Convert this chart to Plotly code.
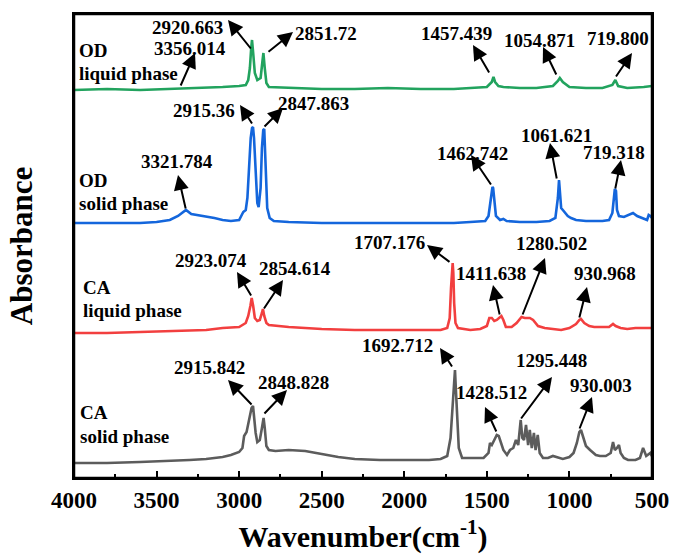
import plotly.graph_objects as go

# ---------------- data ----------------
od_liquid_wn = [4000, 3800, 3600, 3400, 3300, 3200, 3100, 3000, 2960, 2945, 2935, 2927, 2922, 2915,
                2905, 2890, 2870, 2860, 2853, 2845, 2835, 2820, 2700, 2500, 2300, 2100, 1900, 1700,
                1600, 1500, 1470, 1460, 1450, 1430, 1400, 1300, 1200, 1100, 1070, 1058, 1040, 1000,
                900, 800, 740, 722, 705, 650, 550, 500]
od_liquid_ab = [388, 389, 388, 389, 390, 390, 391, 392, 393, 398, 410, 430, 438, 425,
                405, 398, 400, 415, 425, 410, 395, 391, 390, 389, 389, 390, 389, 389,
                390, 391, 396, 401, 396, 392, 391, 390, 390, 392, 397, 400, 396, 391,
                390, 390, 393, 398, 392, 390, 391, 392]

od_solid_wn = [4000, 3800, 3600, 3500, 3420, 3370, 3322, 3290, 3250, 3200, 3150, 3100, 3050, 3000,
               2975, 2960, 2950, 2940, 2930, 2922, 2916, 2910, 2900, 2890, 2882, 2870, 2862, 2854,
               2848, 2840, 2830, 2815, 2790, 2700, 2500, 2300, 2100, 1900, 1700, 1600, 1510, 1490,
               1475, 1466, 1462, 1455, 1445, 1420, 1400, 1380, 1300, 1200, 1120, 1085, 1070, 1063,
               1058, 1050, 1040, 1025, 1010, 990, 960, 900, 800, 760, 740, 725, 718, 712, 700, 670,
               640, 615, 590, 560, 530, 520, 510, 500]
od_solid_ab = [255, 255, 255, 256, 258, 262, 268, 264, 263, 262, 260, 258, 257, 258,
               266, 268, 280, 310, 340, 350, 351, 340, 300, 275, 271, 290, 330, 348,
               349, 320, 270, 260, 257, 256, 255, 255, 255, 255, 255, 256, 257, 262,
               280, 291, 290, 278, 262, 258, 259, 257, 256, 256, 257, 260, 280, 298,
               285, 270, 268, 265, 262, 260, 258, 257, 257, 258, 265, 289, 287, 268, 262, 261,
               263, 265, 262, 260, 258, 263, 262, 260]

ca_liquid_wn = [4000, 3800, 3600, 3400, 3200, 3100, 3000, 2960, 2945, 2932, 2924, 2915, 2905, 2890,
                2875, 2862, 2856, 2848, 2835, 2820, 2700, 2500, 2300, 2100, 1900, 1780, 1740, 1725,
                1717, 1711, 1707, 1703, 1698, 1690, 1675, 1600, 1540, 1500, 1485, 1470, 1455, 1440,
                1420, 1412, 1400, 1385, 1350, 1320, 1290, 1270, 1240, 1220, 1190, 1150, 1100, 1050,
                1000, 960, 940, 930, 910, 880, 850, 800, 760, 736, 720, 690, 650, 600, 500]
ca_liquid_ab = [145, 145, 146, 147, 148, 150, 151, 155, 162, 172, 180, 172, 160, 157,
                158, 165, 169, 162, 155, 153, 151, 149, 148, 148, 148, 148, 150, 160,
                190, 210, 215, 205, 175, 155, 150, 148, 149, 152, 160, 160, 157, 158,
                161, 162, 158, 151, 151, 155, 161, 160, 160, 158, 152, 150, 149, 148,
                150, 154, 158, 159, 155, 152, 151, 151, 151, 154, 152, 150, 149, 150, 150]

ca_solid_wn = [4000, 3800, 3600, 3400, 3300, 3200, 3100, 3050, 3000, 2980, 2970, 2955, 2945, 2935,
               2925, 2916, 2910, 2900, 2890, 2875, 2862, 2852, 2845, 2835, 2820, 2780, 2700, 2600,
               2500, 2400, 2300, 2147, 2000, 1850, 1780, 1740, 1720, 1710, 1700, 1693, 1688, 1680,
               1670, 1650, 1600, 1520, 1490, 1481, 1470, 1455, 1440, 1428, 1415, 1400, 1378, 1360,
               1340, 1324, 1310, 1295, 1285, 1275, 1263, 1250, 1240, 1228, 1215, 1205, 1192, 1180,
               1160, 1130, 1100, 1080, 1060, 1040, 1000, 975, 955, 940, 930, 915, 900, 875, 840,
               815, 780, 750, 736, 725, 712, 700, 690, 670, 645, 600, 573, 554, 535, 510, 500]
ca_solid_ab = [15, 15, 16, 17, 18, 19, 21, 23, 26, 30, 42, 46, 55, 65,
               70, 72, 60, 45, 36, 38, 50, 60, 50, 32, 28, 27, 28, 27,
               24, 21, 19, 18, 18, 18, 19, 22, 40, 70, 100, 108, 90, 55,
               30, 20, 20, 20, 25, 35, 33, 38, 43, 42, 35, 28, 23, 28,
               30, 38, 33, 58, 40, 38, 53, 33, 48, 30, 45, 28, 43, 25,
               20, 20, 22, 21, 20, 19, 21, 25, 35, 46, 48, 40, 32, 28, 23,
               22, 22, 25, 36, 28, 30, 33, 25, 20, 18, 18, 20, 30, 22, 25, 22]

x_ticks = [4000, 3500, 3000, 2500, 2000, 1500, 1000, 500]

sample_labels = [["OD", "liquid phase"], ["OD", "solid phase"],
                 ["CA", "liquid phase"], ["CA", "solid phase"]]
peak_labels = ["2920.663", "3356.014", "2851.72", "1457.439", "1054.871", "719.800",
               "2915.36", "2847.863", "3321.784", "1462.742", "1061.621", "719.318",
               "2923.074", "2854.614", "1707.176", "1411.638", "1280.502", "930.968",
               "2915.842", "2848.828", "1692.712", "1428.512", "1295.448", "930.003"]

# ---------------- layout helpers ----------------
W, H = 673, 558
L, R, T, B = 74, 652, 14, 478
X0, X1 = 4000, 500
YTOP = B - T


def wx(px):
    return X0 - (px - L) * float(X0 - X1) / (R - L)


def vy(py):
    return B - py


FONT = "Liberation Serif, Times New Roman, serif"
colors = ["#22a35e", "#1466dc", "#f23f3f", "#5c5c5c"]

fig = go.Figure()
for wn, ab, c in zip([od_liquid_wn, od_solid_wn, ca_liquid_wn, ca_solid_wn],
                     [od_liquid_ab, od_solid_ab, ca_liquid_ab, ca_solid_ab], colors):
    fig.add_trace(go.Scatter(x=wn, y=ab, mode="lines", line=dict(color=c, width=2.6),
                             showlegend=False, hoverinfo="skip"))

ann = []
side_pos = [(77, 50, 73), (77, 180, 203), (81, 287, 310), (78, 412, 436)]
for (px, py1, py2), (l1, l2) in zip(side_pos, sample_labels):
    for py, t in ((py1, l1), (py2, l2)):
        ann.append(dict(x=wx(px), y=vy(py), xref="x", yref="y", text=t,
                        showarrow=False, xanchor="left", yanchor="middle",
                        font=dict(family=FONT, size=19, color="black", weight="bold")))

# peak labels: text centre, arrow head, arrow tail (pixels)
peak_geom = [
    ((187, 27), (228, 20), (252, 50)),
    ((190, 48), (195, 53), (180, 87)),
    ((326, 33), (293, 32), (267, 53)),
    ((456, 33), (473, 45), (490, 74)),
    ((539, 40), (543, 47), (557, 76)),
    ((618, 38), (632, 53), (615, 78)),
    ((204, 110), (240, 105), (253, 125)),
    ((313, 103), (283, 108), (263, 128)),
    ((177, 161), (178, 175), (186, 210)),
    ((472, 153), (471, 155), (492, 186)),
    ((556, 135), (550, 143), (557, 180)),
    ((614, 152), (621, 160), (615, 190)),
    ((211, 260), (237, 272), (252, 297)),
    ((295, 268), (283, 280), (263, 310)),
    ((389, 242), (427, 245), (451, 263)),
    ((491, 273), (493, 285), (500, 316)),
    ((551, 243), (545, 258), (522, 316)),
    ((605, 273), (587, 287), (579, 319)),
    ((209, 367), (228, 380), (253, 406)),
    ((293, 382), (287, 390), (263, 415)),
    ((397, 345), (440, 348), (453, 368)),
    ((491, 392), (485, 407), (497, 433)),
    ((551, 360), (552, 377), (520, 420)),
    ((601, 385), (592, 397), (579, 430)),
]
for t, ((tx, ty), (hx, hy), (sx, sy)) in zip(peak_labels, peak_geom):
    ann.append(dict(x=wx(tx), y=vy(ty), xref="x", yref="y", text=t,
                    showarrow=False, xanchor="center", yanchor="middle",
                    font=dict(family=FONT, size=19, color="black", weight="bold")))
    ann.append(dict(x=wx(hx), y=vy(hy), xref="x", yref="y", ax=wx(sx), ay=vy(sy),
                    axref="x", ayref="y", text="", showarrow=True, arrowhead=2,
                    arrowsize=1.5, arrowwidth=2, arrowcolor="black"))

fig.update_layout(
    width=W, height=H, autosize=False,
    margin=dict(l=L, r=W - R, t=T, b=H - B, pad=0, autoexpand=False),
    paper_bgcolor="white", plot_bgcolor="white",
    annotations=ann,
    shapes=[dict(type="rect", xref="paper", yref="paper", x0=0, x1=1, y0=0, y1=1,
                 line=dict(color="black", width=2.5), layer="above")],
    xaxis=dict(range=[X0, X1], tickmode="array", tickvals=x_ticks,
               ticks="inside", ticklen=7, tickwidth=2, tickcolor="black",
               minor=dict(dtick=250, ticks="inside", ticklen=4, tickwidth=2,
                          tickcolor="black"),
               showline=True, linewidth=2, linecolor="black", mirror=True,
               showgrid=False, zeroline=False, automargin=False,
               tickfont=dict(family=FONT, size=23, color="black", weight="bold"),
               title=dict(text="Wavenumber(cm<sup>-1</sup>)", standoff=14,
                          font=dict(family=FONT, size=30, color="black", weight="bold"))),
    yaxis=dict(range=[0, YTOP], showticklabels=False, ticks="",
               showline=True, linewidth=2, linecolor="black", mirror=True,
               showgrid=False, zeroline=False, automargin=False,
               title=dict(text="Absorbance", standoff=30,
                          font=dict(family=FONT, size=31, color="black", weight="bold"))),
)

fig.write_html("out.html", config={"displayModeBar": False},
               post_script="document.body.style.margin='0';document.body.style.padding='0';"
                           "document.body.style.overflow='hidden';"
                           "document.documentElement.style.overflow='hidden';")
